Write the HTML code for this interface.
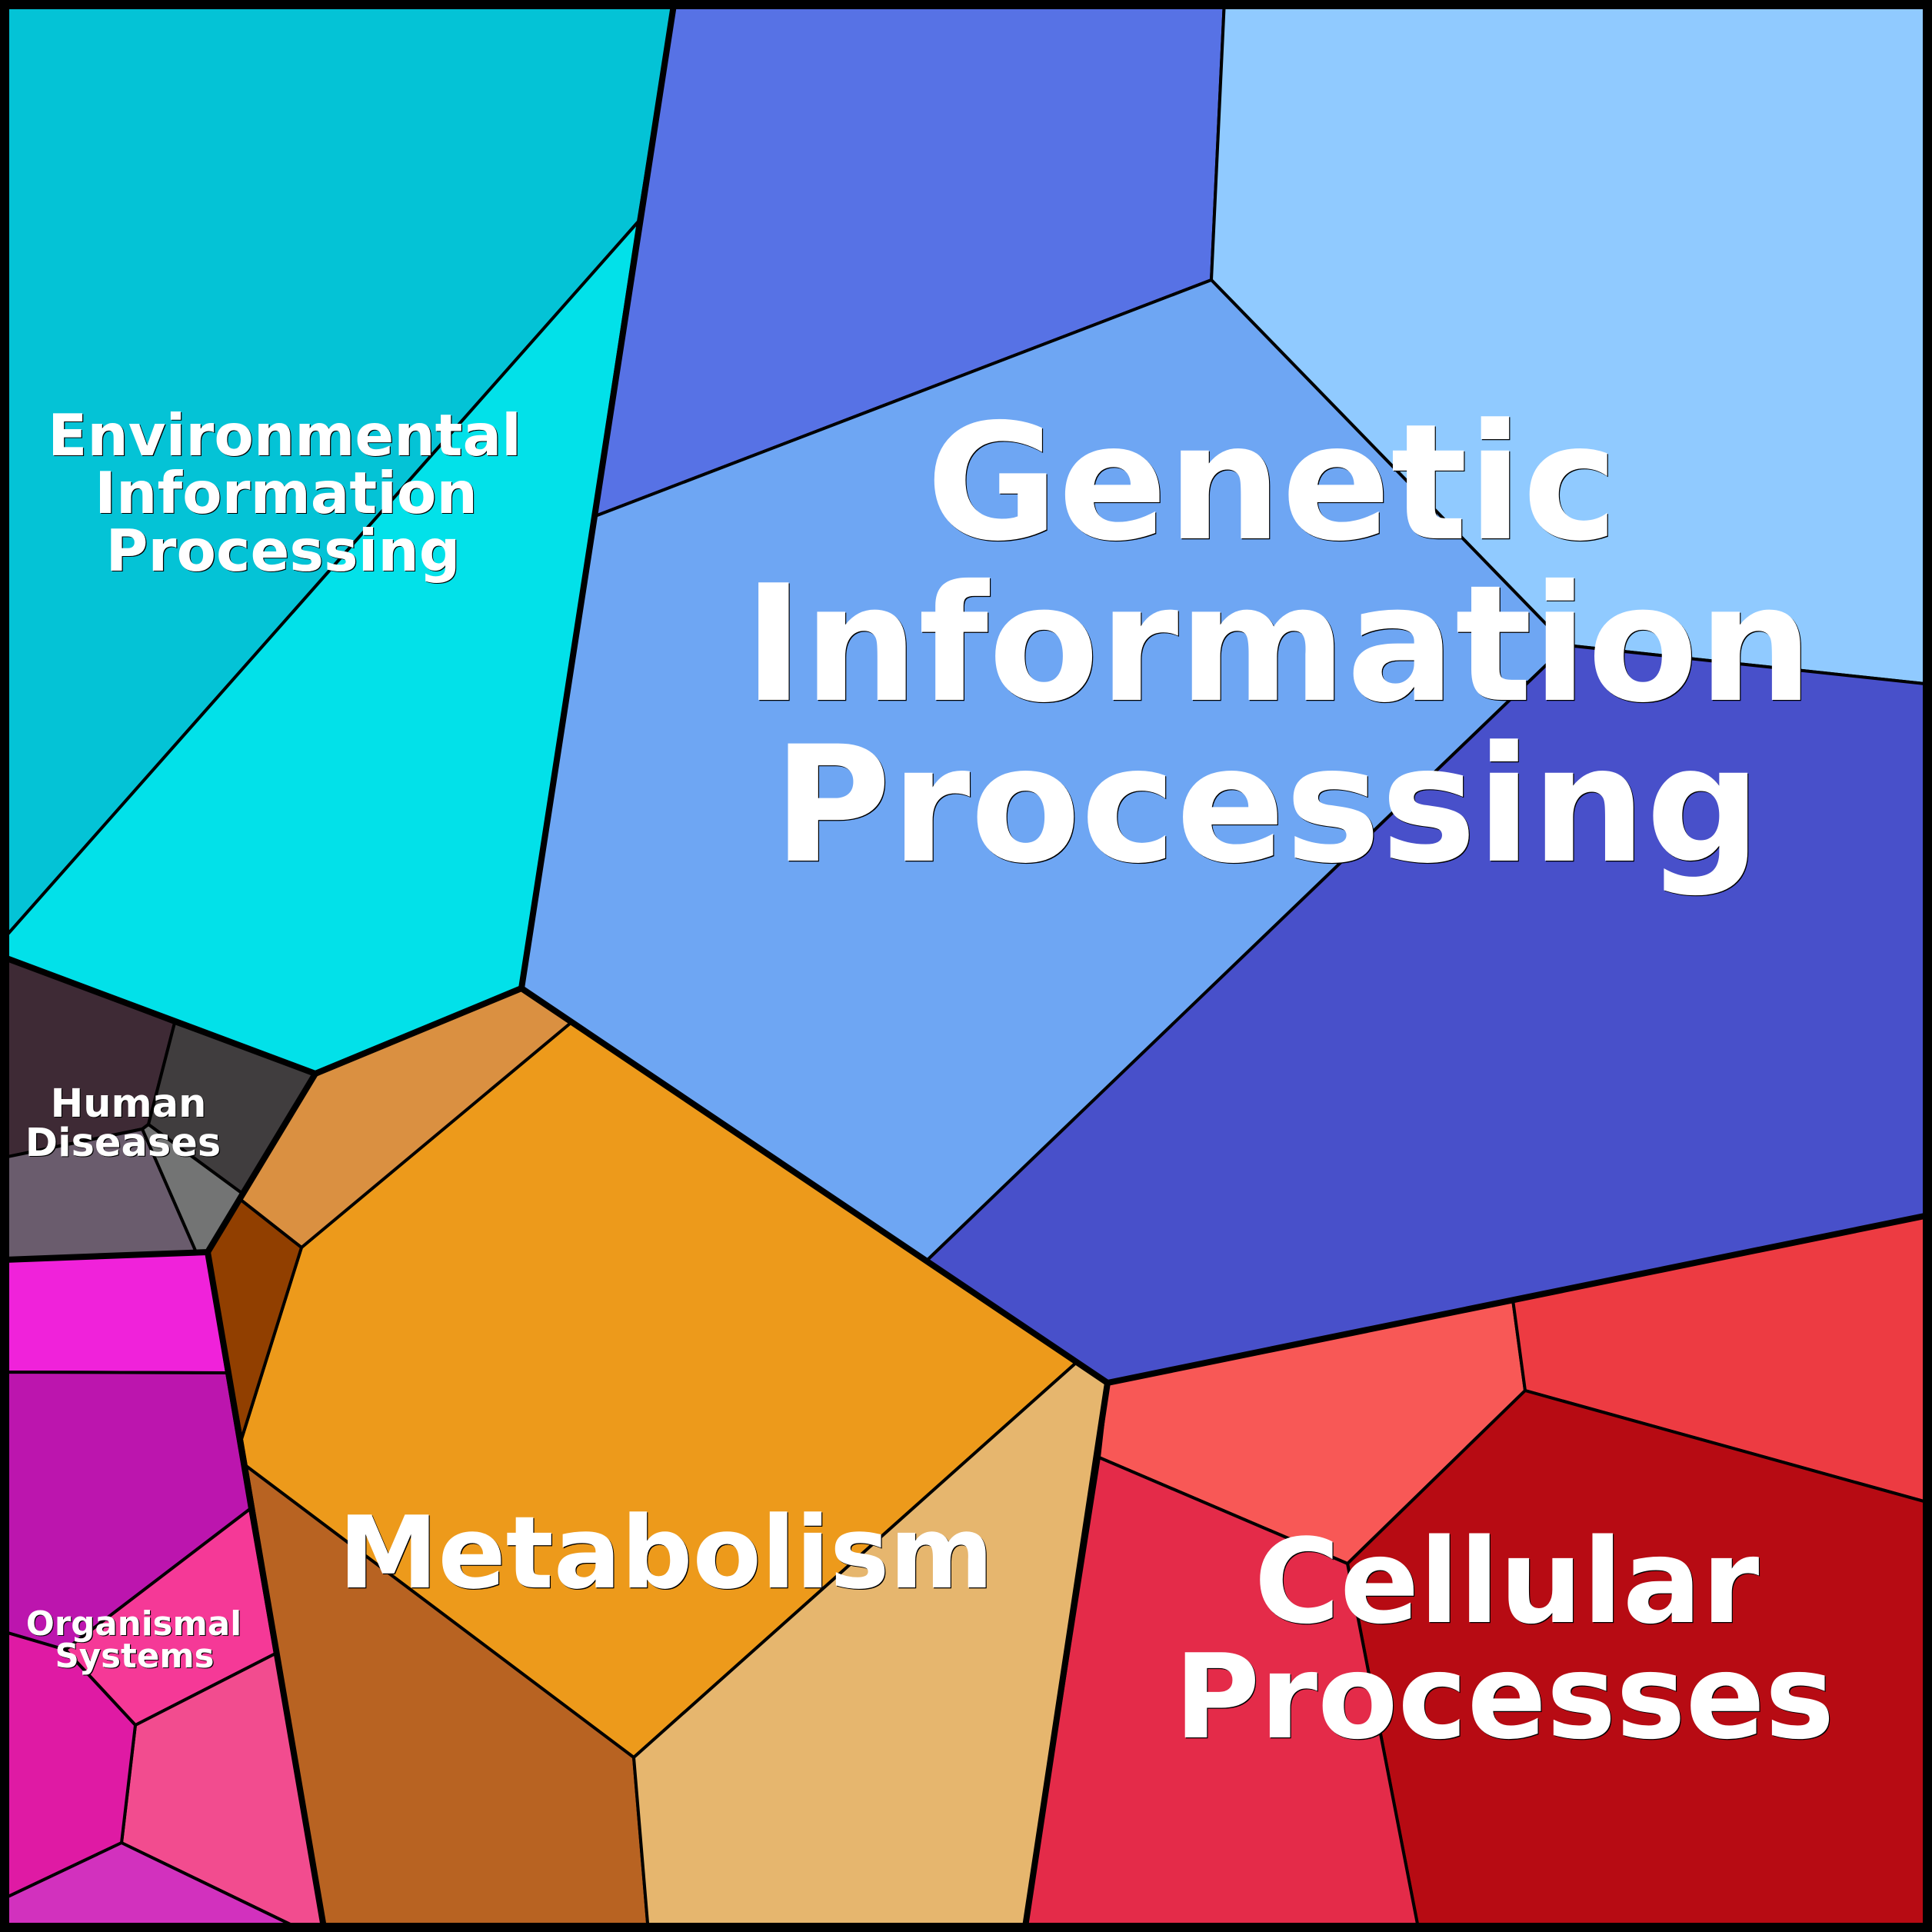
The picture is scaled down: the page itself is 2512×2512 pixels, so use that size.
<!DOCTYPE html>
<html><head><meta charset="utf-8"><style>
html,body{margin:0;padding:0;background:#000}
svg{display:block}
text{font-family:"DejaVu Sans",sans-serif;font-weight:700;text-anchor:middle}
</style></head><body>
<svg xmlns="http://www.w3.org/2000/svg" width="2512" height="2512" viewBox="0 0 2512 2512">
<g stroke="#000" stroke-width="4" stroke-linejoin="round">
<polygon fill="#04c3d6" points="0,0 877,0 830,288 0,1226"/>
<polygon fill="#02e1e9" points="830,288 678,1285 410,1396 0,1243 0,1226"/>
<polygon fill="#5772e5" points="877,0 1592,0 1575,364 774,671"/>
<polygon fill="#90caff" points="1592,0 2512,0 2512,890 2037,839 1575,364"/>
<polygon fill="#6ea6f3" points="774,671 1575,364 2037,839 1205,1639 678,1285"/>
<polygon fill="#4850ca" points="2037,839 2512,890 2512,1579 1440,1798 1205,1639"/>
<polygon fill="#ed9a1b" points="742,1330 1399,1772 824,2285 320,1906 314,1871 392,1622"/>
<polygon fill="#da9041" points="678,1285 742,1330 392,1622 313,1560 410,1396"/>
<polygon fill="#913f00" points="313,1560 392,1622 314,1871 270,1628"/>
<polygon fill="#b86322" points="320,1906 824,2285 843,2512 422,2512"/>
<polygon fill="#e6b66e" points="1399,1772 1440,1798 1332,2512 843,2512 824,2285"/>
<polygon fill="#f85856" points="1440,1798 1967,1690 1983,1808 1752,2033 1429,1895"/>
<polygon fill="#ed3b42" points="1967,1690 2512,1579 2512,1955 1983,1808"/>
<polygon fill="#b70b13" points="1983,1808 2512,1955 2512,2512 1845,2512 1752,2033"/>
<polygon fill="#e42b49" points="1429,1895 1752,2033 1845,2512 1332,2512"/>
<polygon fill="#3e2a35" points="0,1243 227,1330 193,1462 185,1468 0,1506"/>
<polygon fill="#403d3e" points="227,1330 410,1396 314,1551 193,1462"/>
<polygon fill="#6a5c6d" points="0,1506 185,1468 255,1628 0,1638"/>
<polygon fill="#737474" points="185,1468 193,1462 314,1551 270,1628 255,1628"/>
<polygon fill="#f022da" points="0,1638 270,1628 295,1785 0,1784"/>
<polygon fill="#bc15ae" points="0,1784 295,1785 325,1962 85,2145 0,2120"/>
<polygon fill="#f53997" points="325,1962 358,2150 176,2243 85,2145"/>
<polygon fill="#f24c8f" points="176,2243 358,2150 422,2512 398,2512 158,2396"/>
<polygon fill="#df1aa4" points="0,2120 85,2145 176,2243 158,2396 0,2471"/>
<polygon fill="#d231be" points="0,2471 158,2396 398,2512 0,2512"/>
</g>
<g fill="none" stroke="#000" stroke-width="8" stroke-linejoin="round" stroke-linecap="round">
<polyline points="6,1245 410,1396 678,1285 1440,1798 2512,1579"/>
<polyline points="678,1285 877,0"/>
<polyline points="410,1396 270,1628 6,1638"/>
<polyline points="270,1628 422,2512"/>
<polyline points="1440,1798 1332,2512"/>
</g>
<rect x="6" y="6" width="2500" height="2500" fill="none" stroke="#000" stroke-width="12" stroke-linejoin="round"/>

<g fill="#000" transform="translate(1.2,1.2)">
<text font-size="209" x="1654" y="700">Genetic</text>
<text font-size="209.5" x="1662" y="910">Information</text>
<text font-size="209" x="1647.5" y="1119">Processing</text>
<text font-size="152" x="1959" y="2109">Cellular</text>
<text font-size="152" x="1956" y="2259">Processes</text>
<text font-size="130" x="866" y="2064">Metabolism</text>
<text font-size="75" x="370" y="592">Environmental</text>
<text font-size="75" x="372" y="667">Information</text>
<text font-size="75" x="368" y="742">Processing</text>
<text font-size="51" x="167" y="1452">Human</text>
<text font-size="51" x="160" y="1503">Diseases</text>
<text font-size="43.5" x="174" y="2126">Organismal</text>
<text font-size="43.5" x="175" y="2168">Systems</text>
</g>
<g fill="#fff">
<text font-size="209" x="1654" y="700">Genetic</text>
<text font-size="209.5" x="1662" y="910">Information</text>
<text font-size="209" x="1647.5" y="1119">Processing</text>
<text font-size="152" x="1959" y="2109">Cellular</text>
<text font-size="152" x="1956" y="2259">Processes</text>
<text font-size="130" x="866" y="2064">Metabolism</text>
<text font-size="75" x="370" y="592">Environmental</text>
<text font-size="75" x="372" y="667">Information</text>
<text font-size="75" x="368" y="742">Processing</text>
<text font-size="51" x="167" y="1452">Human</text>
<text font-size="51" x="160" y="1503">Diseases</text>
<text font-size="43.5" x="174" y="2126">Organismal</text>
<text font-size="43.5" x="175" y="2168">Systems</text>
</g>
</svg>
</body></html>
